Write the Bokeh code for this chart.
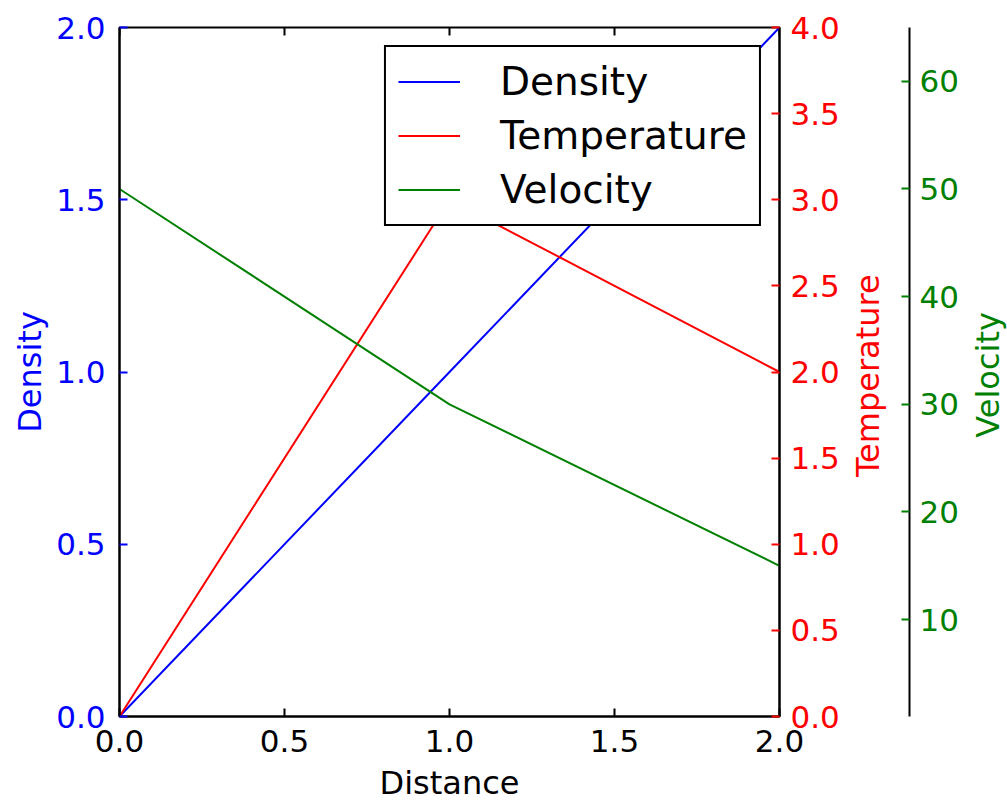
import math
from bokeh.plotting import figure
from bokeh.models import Range1d, LinearAxis, FixedTicker, NumeralTickFormatter, Legend, LegendItem
from bokeh.embed import file_html
from bokeh.resources import INLINE

# ---- data ----
distance = [0, 1, 2]
density = [0, 1, 2]
temperature = [0, 3, 2]
velocity = [50, 30, 15]

x_ticks = [0.0, 0.5, 1.0, 1.5, 2.0]
density_ticks = [0.0, 0.5, 1.0, 1.5, 2.0]
temperature_ticks = [0.0, 0.5, 1.0, 1.5, 2.0, 2.5, 3.0, 3.5, 4.0]
velocity_ticks = [10, 20, 30, 40, 50, 60]

density_lim = (0, 2)
temperature_lim = (0, 4)
velocity_lim = (1, 65)
distance_lim = (0, 2)

# where the rotated right-hand titles start (bottom end of the text), in axis units
TEMP_TITLE_AT = 1.39
VEL_TITLE_AT = 26.9

BLUE = "#0000ff"
RED = "#ff0000"
GREEN = "#008000"
FONT = "DejaVu Sans"
TICK_FS = "31px"
LABEL_FS = "32px"
LEGEND_FS = "39px"

p = figure(frame_width=660, frame_height=689, output_backend="svg", toolbar_location=None,
           x_range=Range1d(*distance_lim), y_range=Range1d(*density_lim),
           x_axis_location=None, y_axis_location=None,
           min_border_left=119, min_border_right=0, min_border_top=27, min_border_bottom=0)
p.extra_y_ranges = {"temp": Range1d(*temperature_lim), "vel": Range1d(*velocity_lim)}
p.xgrid.visible = False
p.ygrid.visible = False
p.outline_line_color = "black"
p.outline_line_width = 2
p.background_fill_color = "white"
p.border_fill_color = "white"


def style(ax, color, lab_color, ticks, fmt):
    ax.ticker = FixedTicker(ticks=ticks)
    ax.formatter = NumeralTickFormatter(format=fmt)
    ax.axis_line_color = "black"
    ax.axis_line_width = 2
    ax.major_tick_in = 8
    ax.major_tick_out = 0
    ax.major_tick_line_color = color
    ax.major_tick_line_width = 2
    ax.minor_tick_line_color = None
    ax.major_label_text_color = lab_color
    ax.major_label_text_font = FONT
    ax.major_label_text_font_size = TICK_FS
    ax.axis_label_text_color = lab_color
    ax.axis_label_text_font = FONT
    ax.axis_label_text_font_size = LABEL_FS
    ax.axis_label_text_font_style = "normal"


def title_axis(range_name, at, text, color, standoff):
    # an axis without line or tick marks whose single label is the rotated title
    ax = LinearAxis(y_range_name=range_name, ticker=FixedTicker(ticks=[at]),
                    major_label_overrides={at: text}, major_label_orientation=math.pi / 2,
                    major_label_standoff=standoff, major_tick_in=0, major_tick_out=0,
                    axis_line_color=None, major_tick_line_color=None, minor_tick_line_color=None,
                    major_label_text_color=color, major_label_text_font=FONT,
                    major_label_text_font_size=LABEL_FS)
    return ax


# bottom axis
xb = LinearAxis(axis_label="Distance")
style(xb, "black", "black", x_ticks, "0.0")
xb.major_label_standoff = 13
xb.axis_label_standoff = 9
p.add_layout(xb, "below")

# left axis (density)
yl = LinearAxis(axis_label="Density")
style(yl, BLUE, BLUE, density_ticks, "0.0")
yl.major_label_standoff = 14
yl.axis_label_standoff = 4
p.add_layout(yl, "left")

# right axis (temperature)
yr = LinearAxis(y_range_name="temp")
style(yr, RED, RED, temperature_ticks, "0.0")
yr.major_label_standoff = 11
p.add_layout(yr, "right")

# temperature title
p.add_layout(title_axis("temp", TEMP_TITLE_AT, "Temperature", RED, 26), "right")

# velocity axis
yv = LinearAxis(y_range_name="vel")
style(yv, GREEN, GREEN, velocity_ticks, "0")
yv.major_label_standoff = 10
p.add_layout(yv, "right")

# velocity title
p.add_layout(title_axis("vel", VEL_TITLE_AT, "Velocity", GREEN, 27), "right")

# top spine ticks (inward), clipped to the frame
top_y = [density_lim[1]] * len(x_ticks)
p.scatter(x_ticks, top_y, marker="dash", angle=math.pi / 2, size=16,
          line_color="black", line_width=2)

r1 = p.line(distance, density, line_color=BLUE, line_width=2)
r2 = p.line(distance, temperature, line_color=RED, line_width=2, y_range_name="temp")
r3 = p.line(distance, velocity, line_color=GREEN, line_width=2, y_range_name="vel")

legend = Legend(items=[LegendItem(label="Density", renderers=[r1]),
                       LegendItem(label="Temperature", renderers=[r2]),
                       LegendItem(label="Velocity", renderers=[r3])],
                location="top_right", margin=18, padding=12, spacing=9,
                glyph_width=62, glyph_height=45, label_height=45, label_standoff=40,
                label_text_font=FONT, label_text_font_size=LEGEND_FS, label_text_color="black",
                border_line_color="black", border_line_width=2, border_line_alpha=1.0,
                background_fill_color="white", background_fill_alpha=1.0)
p.add_layout(legend, "center")

open("out.html", "w").write(file_html(p, INLINE))
